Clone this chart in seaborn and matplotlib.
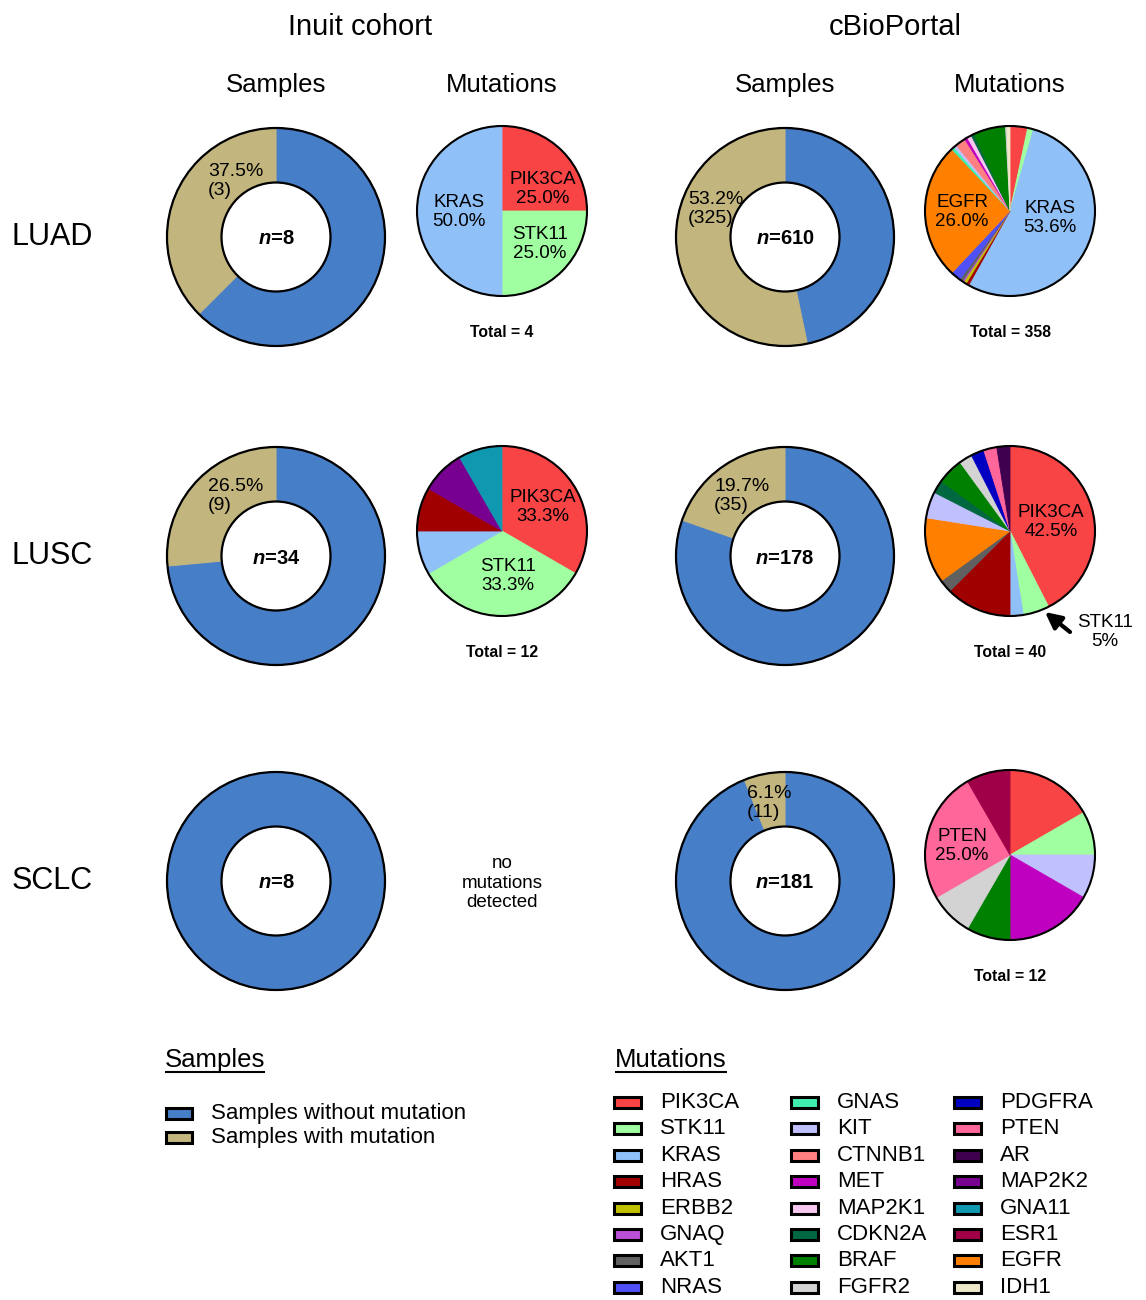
import matplotlib
matplotlib.use("Agg")
import matplotlib.pyplot as plt
from matplotlib.patches import Circle, Rectangle
import seaborn as sns

# ---------------- data ----------------
COHORT_TITLES = ["Inuit cohort", "cBioPortal"]
CANCER_TYPES = ["LUAD", "LUSC", "SCLC"]

# samples per cancer type: total n, number with mutation, printed percentage
N_INUIT = [8, 34, 8]
WITH_INUIT = [3, 9, 0]
PCT_INUIT = [37.5, 26.5, 0.0]
N_CBIO = [610, 178, 181]
WITH_CBIO = [325, 35, 11]
PCT_CBIO = [53.2, 19.7, 6.1]

# legend order of genes and their colours
GENES_LEGEND = ["PIK3CA", "STK11", "KRAS", "HRAS", "ERBB2", "GNAQ", "AKT1", "NRAS",
                "GNAS", "KIT", "CTNNB1", "MET", "MAP2K1", "CDKN2A", "BRAF", "FGFR2",
                "PDGFRA", "PTEN", "AR", "MAP2K2", "GNA11", "ESR1", "EGFR", "IDH1"]
GENE_COLORS = ["#F94446", "#A0FFA0", "#90C0F8", "#A00000", "#C0C000", "#B850D8", "#606060", "#5050F8",
               "#40F0B0", "#C0C0FF", "#FF8080", "#C000C0", "#F8C8F0", "#006840", "#008000", "#D3D3D3",
               "#0000C0", "#FF6699", "#400050", "#780090", "#1098B0", "#A00048", "#FF8000", "#EEE8C8"]

# mutation pies (clockwise from 12 o'clock)
LUAD_INUIT_GENES = ["PIK3CA", "STK11", "KRAS"]
LUAD_INUIT_COUNTS = [1, 1, 2]
LUAD_CBIO_GENES = ["PIK3CA", "STK11", "KRAS", "HRAS", "ERBB2", "GNAQ", "AKT1", "NRAS", "EGFR",
                   "GNAS", "KIT", "CTNNB1", "MET", "MAP2K1", "CDKN2A", "BRAF", "FGFR2", "IDH1"]
LUAD_CBIO_COUNTS = [12, 4, 192, 2, 2, 1, 2, 7, 93, 2, 2, 7, 2, 3, 2, 22, 1, 2]
LUSC_INUIT_GENES = ["PIK3CA", "STK11", "KRAS", "HRAS", "MAP2K2", "GNA11"]
LUSC_INUIT_COUNTS = [4, 4, 1, 1, 1, 1]
LUSC_CBIO_GENES = ["PIK3CA", "STK11", "KRAS", "HRAS", "AKT1", "EGFR", "KIT", "CDKN2A", "BRAF",
                   "FGFR2", "PDGFRA", "PTEN", "AR"]
LUSC_CBIO_COUNTS = [17, 2, 1, 5, 1, 5, 2, 1, 2, 1, 1, 1, 1]
SCLC_CBIO_GENES = ["PIK3CA", "STK11", "KIT", "MET", "BRAF", "FGFR2", "PTEN", "ESR1"]
SCLC_CBIO_COUNTS = [2, 1, 1, 2, 1, 1, 3, 1]

SAMPLE_LABELS = ["Samples without mutation", "Samples with mutation"]
SAMPLE_COLORS = ["#477EC8", "#C2B57E"]

# ---------------- style ----------------
sns.set_theme(style="white")
plt.rcParams["font.family"] = ["Liberation Sans", "DejaVu Sans"]
plt.rcParams["text.color"] = "black"
plt.rcParams["mathtext.fontset"] = "custom"
plt.rcParams["mathtext.it"] = "Liberation Sans:italic:bold"
plt.rcParams["mathtext.rm"] = "Liberation Sans:bold"
plt.rcParams["mathtext.bf"] = "Liberation Sans:bold"

gene_color = dict(zip(GENES_LEGEND, sns.color_palette(GENE_COLORS)))

W, H = 1146, 1300
fig = plt.figure(figsize=(W / 100, H / 100), dpi=100)
ax = fig.add_axes([0, 0, 1, 1])

# layout (pixel coordinates, y downwards)
COL_DONUT_X = [276, 785]
COL_PIE_X = [502, 1010]
ROW_DONUT_Y = [237, 556, 881]
ROW_PIE_Y = [211, 531, 855]
R_OUT, R_IN, R_PIE = 109, 54.5, 85


def seal(wedges, lw):
    for w in wedges:
        w.set_edgecolor(w.get_facecolor())
        w.set_linewidth(lw)


def donut(cx, cy, n, k, pct, label_off):
    pairs = [(v, c) for v, c in zip([n - k, k], SAMPLE_COLORS) if v > 0]
    wedges, _ = ax.pie([p[0] for p in pairs], colors=[p[1] for p in pairs], radius=R_OUT,
                       center=(cx, cy), startangle=-90, counterclock=True, frame=True,
                       wedgeprops=dict(width=R_OUT - R_IN))
    seal(wedges, 0.8)
    ax.add_patch(Circle((cx, cy), R_OUT, fill=False, ec="black", lw=1.6, zorder=5))
    ax.add_patch(Circle((cx, cy), R_IN, fill=False, ec="black", lw=1.6, zorder=5))
    ax.text(cx, cy + 2, f"$n$={n}", ha="center", va="center", fontsize=14.5,
            fontweight="bold", zorder=6)
    if k > 0 and label_off is not None:
        ax.text(cx + label_off[0], cy + label_off[1], f"{pct:.1f}%\n({k})",
                ha="left", va="center", multialignment="left", fontsize=14, zorder=6)


def mut_pie(cx, cy, genes, counts, labels):
    total = sum(counts)
    wedges, _ = ax.pie(counts, colors=[gene_color[g] for g in genes], radius=R_PIE,
                       center=(cx, cy), startangle=-90, counterclock=True, frame=True)
    seal(wedges, 0.6)
    ax.add_patch(Circle((cx, cy), R_PIE, fill=False, ec="black", lw=1.5, zorder=5))
    for gene, (dx, dy) in labels:
        c = counts[genes.index(gene)]
        ax.text(cx + dx, cy + dy, f"{gene}\n{100 * c / total:.1f}%", ha="center",
                va="center", fontsize=13.5, zorder=6)
    ax.text(cx, cy + 126, f"Total = {total}", ha="center", va="baseline",
            fontsize=11.3, fontweight="bold")


# titles
for cx, t in zip([360, 895], COHORT_TITLES):
    ax.text(cx, 35, t, ha="center", va="baseline", fontsize=21)
for j in range(2):
    ax.text(COL_DONUT_X[j], 92, "Samples", ha="center", va="baseline", fontsize=18.5)
    ax.text(COL_PIE_X[j], 92, "Mutations", ha="center", va="baseline", fontsize=18.5)
for ry, ct in zip(ROW_DONUT_Y, CANCER_TYPES):
    ax.text(12, ry + 8, ct, ha="left", va="baseline", fontsize=22)

# donuts
inuit_label_off = [(-68, -56), (-68, -60), None]
cbio_label_off = [(-97, -28), (-71, -60), (-38, -78)]
for i in range(3):
    donut(COL_DONUT_X[0], ROW_DONUT_Y[i], N_INUIT[i], WITH_INUIT[i], PCT_INUIT[i],
          inuit_label_off[i])
    donut(COL_DONUT_X[1], ROW_DONUT_Y[i], N_CBIO[i], WITH_CBIO[i], PCT_CBIO[i],
          cbio_label_off[i])

# mutation pies
mut_pie(COL_PIE_X[0], ROW_PIE_Y[0], LUAD_INUIT_GENES, LUAD_INUIT_COUNTS,
        [("PIK3CA", (41, -22)), ("STK11", (38, 33)), ("KRAS", (-43, 1))])
mut_pie(COL_PIE_X[1], ROW_PIE_Y[0], LUAD_CBIO_GENES, LUAD_CBIO_COUNTS,
        [("EGFR", (-48, 1)), ("KRAS", (40, 7))])
mut_pie(COL_PIE_X[0], ROW_PIE_Y[1], LUSC_INUIT_GENES, LUSC_INUIT_COUNTS,
        [("PIK3CA", (41, -24)), ("STK11", (6, 45))])
mut_pie(COL_PIE_X[1], ROW_PIE_Y[1], LUSC_CBIO_GENES, LUSC_CBIO_COUNTS,
        [("PIK3CA", (41, -9))])
mut_pie(COL_PIE_X[1], ROW_PIE_Y[2], SCLC_CBIO_GENES, SCLC_CBIO_COUNTS,
        [("PTEN", (-48, -9))])

# STK11 callout in LUSC cBioPortal
stk = LUSC_CBIO_COUNTS[LUSC_CBIO_GENES.index("STK11")]
ax.annotate("", xy=(1045, 612), xytext=(1070, 632),
            arrowprops=dict(arrowstyle="-|>", color="black", lw=3, mutation_scale=24,
                            shrinkA=0, shrinkB=0))
ax.text(1105, 632, f"STK11\n{100 * stk / sum(LUSC_CBIO_COUNTS):.0f}%", ha="center",
        va="center", fontsize=13.5)

# SCLC Inuit: no mutations
ax.text(COL_PIE_X[0], 883, "no\nmutations\ndetected", ha="center", va="center",
        fontsize=13.5, linespacing=1.2)

# ---------------- legends ----------------
hdr_s = ax.text(165, 1067, "Samples", ha="left", va="baseline", fontsize=18.5)
hdr_m = ax.text(615, 1067, "Mutations", ha="left", va="baseline", fontsize=18.5)

for i, (lab, col) in enumerate(zip(SAMPLE_LABELS, SAMPLE_COLORS)):
    y = 1113 + i * 24.5
    ax.add_patch(Rectangle((166, y - 5.5), 26, 11, fc=col, ec="black", lw=2.2))
    ax.text(211, y, lab, ha="left", va="center", fontsize=16)

patch_x = [614, 791, 954]
text_x = [660, 837, 1000]
for idx, g in enumerate(GENES_LEGEND):
    c, r = divmod(idx, 8)
    y = 1102.5 + r * 26.4
    ax.add_patch(Rectangle((patch_x[c], y - 5.5), 27, 11, fc=gene_color[g], ec="black", lw=2.2))
    ax.text(text_x[c], y, g, ha="left", va="center", fontsize=16)

ax.set_xlim(0, W)
ax.set_ylim(H, 0)
ax.set_aspect("equal")
ax.axis("off")

# underline legend headers
fig.canvas.draw()
inv = ax.transData.inverted()
for t in (hdr_s, hdr_m):
    bb = t.get_window_extent()
    (x0, _), (x1, _) = inv.transform([(bb.x0, bb.y0), (bb.x1, bb.y0)])
    ax.plot([x0, x1], [1072, 1072], color="black", lw=1.5, solid_capstyle="butt")

ax.set_xlim(0, W)
ax.set_ylim(H, 0)
fig.savefig("out.png", dpi=100)
